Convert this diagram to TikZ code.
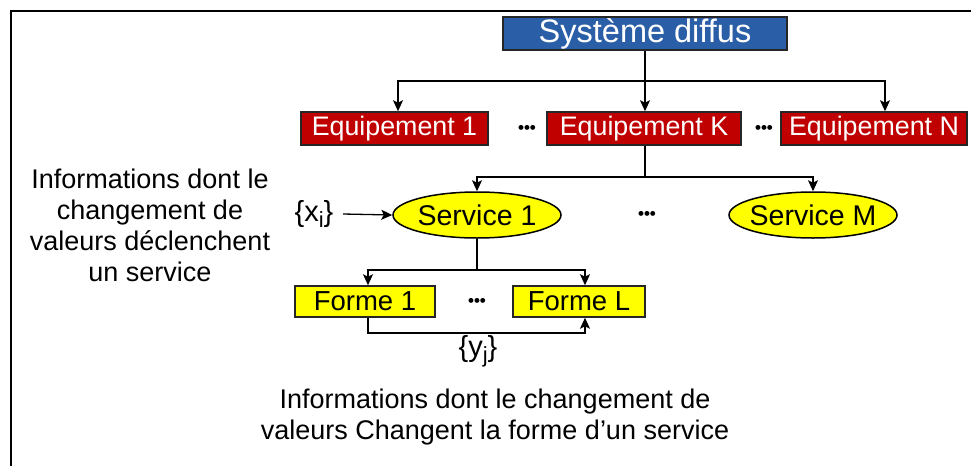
\documentclass[tikz,border=0pt]{standalone}
\usepackage{fontspec}
\setmainfont{Liberation Sans}
\usetikzlibrary{arrows.meta,shapes.geometric}
\definecolor{sysblue}{HTML}{2A5FA8}
\definecolor{eqred}{HTML}{C00000}
\definecolor{yel}{HTML}{FFFF00}
\tikzset{
  sysbox/.style={draw=black!85,line width=1.5pt,fill=sysblue,text=white,font=\fontsize{32.5}{34}\selectfont,inner sep=0pt,minimum width=284pt,minimum height=33pt},
  eqbox/.style={draw=black!85,line width=1.5pt,fill=eqred,text=white,font=\fontsize{26.8}{30}\selectfont,inner sep=0pt,minimum height=33pt},
  servell/.style={ellipse,draw=black,line width=1.5pt,fill=yel,font=\fontsize{28.5}{30}\selectfont,inner xsep=-8pt,inner ysep=0pt,minimum width=168pt,minimum height=46pt},
  formbox/.style={draw=black!85,line width=1.5pt,fill=yel,font=\fontsize{27.5}{30}\selectfont,inner sep=0pt,minimum height=31pt},
  lbl/.style={font=\fontsize{27}{31}\selectfont,align=center,inner sep=0pt},
  setlbl/.style={font=\fontsize{29}{31}\selectfont,inner sep=0pt},
  dots/.style={font=\fontsize{17}{18}\selectfont\bfseries,inner sep=0pt},
  conn/.style={line width=1.3pt},
  arr/.style={conn,-{Stealth[length=11pt,width=10pt,inset=2.5pt]}}
}
\newcommand{\bigsub}[1]{\raisebox{-0.22em}{\fontsize{22}{22}\selectfont #1}}
\begin{document}
\begin{tikzpicture}[x=1pt,y=-1pt]
\useasboundingbox (0,0) rectangle (971,466);
% frame
\draw[line width=2pt] (11,466) -- (11,11) -- (971,11);
% nodes
\node[sysbox] (sys) at (645,33.5) {Système diffus};
\node[eqbox,minimum width=187pt] (eq1) at (394.5,128.5) {Equipement 1};
\node[eqbox,minimum width=194pt] (eqk) at (644,128.5) {Equipement K};
\node[eqbox,minimum width=186pt] (eqn) at (874,128.5) {Equipement N};
\node[dots] (d1) at (527,129) {•••};
\node[dots] (d2) at (764,129) {•••};
\node[servell] (s1) at (477,215) {Service 1};
\node[servell] (sm) at (813,215) {Service M};
\node[dots] (d3) at (647,215) {•••};
\node[formbox,minimum width=140pt] (f1) at (365,301.5) {Forme 1};
\node[formbox,minimum width=132pt] (fl) at (579,301.5) {Forme L};
\node[dots] (d4) at (477,302) {•••};
\node[setlbl] (xi) at (314,214) {\{x\bigsub{i}\}};
\node[setlbl] (yj) at (478,351) {\{y\bigsub{j}\}};
\node[lbl] (linfo) at (150,225) {Informations dont le\\changement de\\valeurs déclenchent\\un service};
\node[lbl] (binfo) at (495,417) {Informations dont le changement de\\valeurs Changent la forme d’un service};
% connectors
\coordinate (b1) at (645,81);
\draw[conn] (sys.south) -- (b1);
\draw[arr] (b1) -| (eq1.north -| 398,0);
\draw[arr] (b1) -- (eqk.north -| b1);
\draw[arr] (b1) -| (eqn.north -| 885,0);
\coordinate (b2) at (645,177);
\draw[conn] (eqk.south -| b2) -- (b2);
\draw[arr] (b2) -| (s1.north);
\draw[arr] (b2) -| (sm.north);
\coordinate (xa) at (343,214);
\draw[arr] (xa) -- (s1.west);
\coordinate (b3) at (477,270);
\draw[conn] (s1.south) -- (b3);
\draw[arr] (b3) -| (f1.north -| 368,0);
\draw[arr] (b3) -| (fl.north -| 585,0);
\coordinate (b4) at (368,333);
\draw[arr] (f1.south -| b4) -- (b4) -| (fl.south -| 585,0);
\end{tikzpicture}
\end{document}
